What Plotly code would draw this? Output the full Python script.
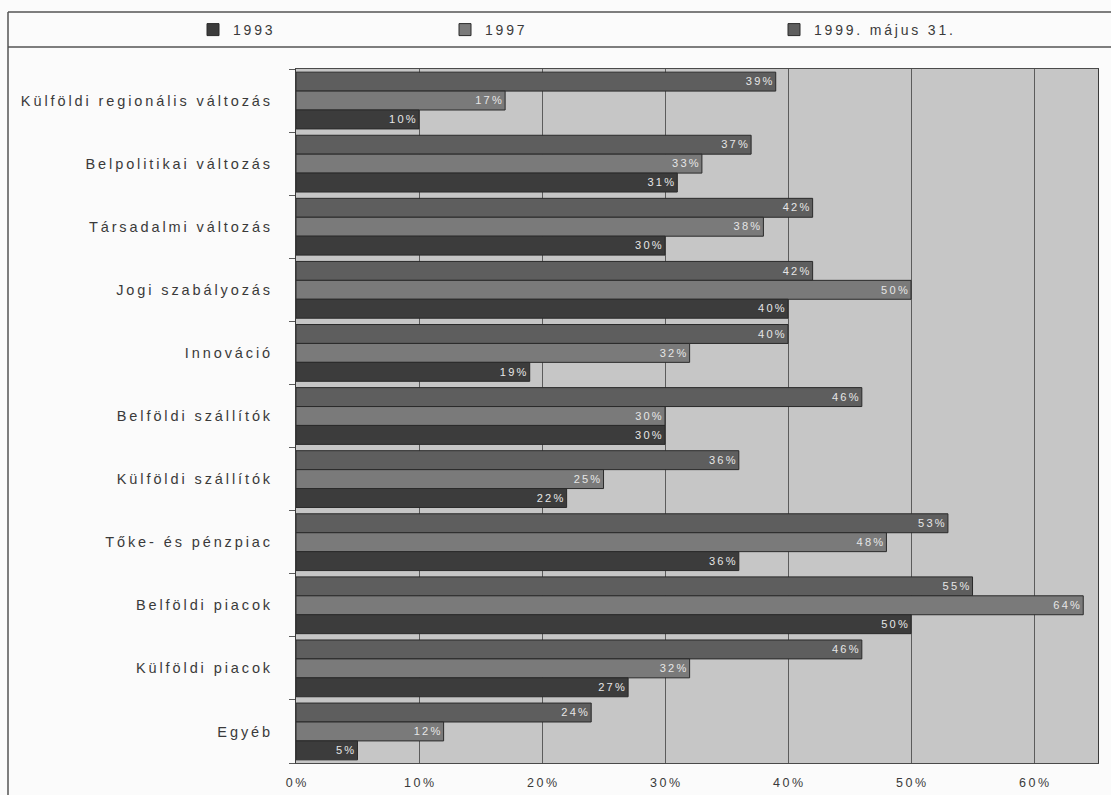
import plotly.graph_objects as go

# Survey data: share of firms naming each factor
categories = [
    "Külföldi regionális változás",
    "Belpolitikai változás",
    "Társadalmi változás",
    "Jogi szabályozás",
    "Innováció",
    "Belföldi szállítók",
    "Külföldi szállítók",
    "Tőke- és pénzpiac",
    "Belföldi piacok",
    "Külföldi piacok",
    "Egyéb",
]
v1993 = [10, 31, 30, 40, 19, 30, 22, 36, 50, 27, 5]
v1997 = [17, 33, 38, 50, 32, 30, 25, 48, 64, 32, 12]
v1999 = [39, 37, 42, 42, 40, 46, 36, 53, 55, 46, 24]
series_names = ["1993", "1997", "1999. május 31."]
x_ticks = [0, 10, 20, 30, 40, 50, 60]

W, H = 1111, 795
ML, MR, MT, MB = 296, 13, 69, 32
PW, PH = W - ML - MR, H - MT - MB

THIN = "\u2009"


def spaced(s):
    return THIN.join(s)


def px_x(px):
    return (px - ML) / PW


def px_y(py):
    return 1 - (py - MT) / PH


colors = ["#3c3c3c", "#7a7a7a", "#5e5e5e"]
series = [v1993, v1997, v1999]
legend_ids = ["legend", "legend2", "legend3"]

fig = go.Figure()
# added newest first so that, on the reversed category axis, 1999 sits on top of each group
for name, vals, col, lid in reversed(list(zip(series_names, series, colors, legend_ids))):
    fig.add_trace(go.Bar(
        y=categories,
        x=vals,
        name=spaced(name),
        orientation="h",
        marker=dict(color=col, line=dict(color="#2a2a2a", width=1)),
        text=[spaced(f"{v}%") for v in vals],
        textposition="inside",
        insidetextanchor="end",
        textangle=0,
        textfont=dict(family="Arial, Liberation Sans, sans-serif", size=12, color="#e6e6e6"),
        legend=lid,
        hoverinfo="x+y+name",
    ))

legend_common = dict(
    orientation="h",
    xref="container",
    yref="container",
    yanchor="middle",
    y=1 - 30 / H,
    bgcolor="rgba(0,0,0,0)",
    font=dict(family="Arial, Liberation Sans, sans-serif", size=14, color="#3a3a3a"),
    itemwidth=30,
    traceorder="normal",
)
legend_left = [193, 445, 774]

fig.update_layout(
    width=W,
    height=H,
    margin=dict(l=ML, r=MR, t=MT, b=MB, pad=0, autoexpand=False),
    paper_bgcolor="#fbfbfb",
    plot_bgcolor="#c6c6c6",
    barmode="group",
    bargap=0.1,
    bargroupgap=0,
    showlegend=True,
    legend=dict(legend_common, x=legend_left[0] / W, xanchor="left"),
    legend2=dict(legend_common, x=legend_left[1] / W, xanchor="left"),
    legend3=dict(legend_common, x=legend_left[2] / W, xanchor="left"),
    font=dict(family="Arial, Liberation Sans, sans-serif", color="#3a3a3a"),
)

fig.update_xaxes(
    range=[0, 65.2],
    tickvals=x_ticks,
    ticktext=[spaced(f"{t}%") for t in x_ticks],
    tickfont=dict(size=12.5, color="#3a3a3a"),
    showgrid=True,
    gridcolor="#5c5c5c",
    gridwidth=1,
    zeroline=False,
    showline=True,
    linecolor="#4a4a4a",
    linewidth=1,
    mirror=True,
    ticks="",
    ticklabelstandoff=8,
    automargin=False,
)

fig.update_yaxes(
    type="category",
    autorange="reversed",
    tickson="boundaries",
    ticks="outside",
    ticklen=6,
    tickcolor="#5a5a5a",
    tickvals=categories,
    ticktext=[spaced(c) for c in categories],
    tickfont=dict(size=14.5, color="#3a3a3a"),
    showgrid=False,
    showline=True,
    linecolor="#3a3a3a",
    linewidth=1,
    mirror=True,
    ticklabelstandoff=22,
    automargin=False,
)

# Outer frame and the rule under the legend strip
frame = dict(type="line", xref="paper", yref="paper", line=dict(color="#555555", width=1.5))
fig.add_shape(frame, x0=px_x(8), x1=px_x(W), y0=px_y(12), y1=px_y(12))
fig.add_shape(frame, x0=px_x(8), x1=px_x(W), y0=px_y(47), y1=px_y(47))
fig.add_shape(frame, x0=px_x(8), x1=px_x(8), y0=px_y(12), y1=px_y(H))

fig.write_html("out.html")
